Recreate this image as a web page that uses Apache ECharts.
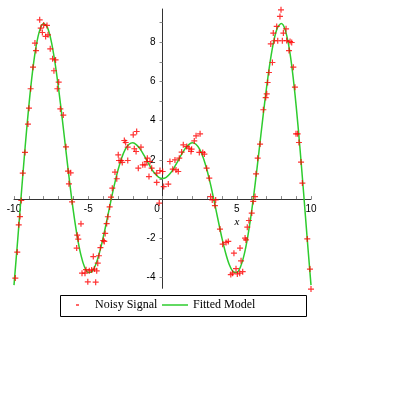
<!DOCTYPE html>
<html><head><meta charset="utf-8">
<script src="https://cdn.jsdelivr.net/npm/echarts@6/dist/echarts.min.js"></script>
<style>html,body{margin:0;padding:0;background:#fff}#c{width:395px;height:395px}</style>
</head><body><div id="c"></div>
<script>
const seriesNames = ['Noisy Signal', 'Fitted Model'];

const fitX = [-10,-9.75,-9.5,-9.25,-9,-8.75,-8.5,-8.25,-8,-7.75,-7.5,-7.25,-7,-6.75,-6.5,-6.25,-6,-5.75,-5.5,-5.25,-5,-4.75,-4.5,-4.25,-4,-3.75,-3.5,-3.25,-3,-2.75,-2.5,-2.25,-2,-1.75,-1.5,-1.25,-1,-0.75,-0.5,-0.25,0,0.25,0.5,0.75,1,1.25,1.5,1.75,2,2.25,2.5,2.75,3,3.25,3.5,3.75,4,4.25,4.5,4.75,5,5.25,5.5,5.75,6,6.25,6.5,6.75,7,7.25,7.5,7.75,8,8.25,8.5,8.75,9,9.25,9.5,9.75,10];
const fitY = [-4.39,-2.07,0.34,2.66,4.76,6.52,7.84,8.66,8.96,8.76,8.09,7.02,5.65,4.09,2.45,0.84,-0.63,-1.87,-2.83,-3.46,-3.74,-3.70,-3.35,-2.75,-1.98,-1.09,-0.18,0.70,1.47,2.10,2.55,2.80,2.87,2.77,2.55,2.24,1.89,1.56,1.29,1.11,1.05,1.11,1.29,1.56,1.89,2.24,2.55,2.77,2.87,2.80,2.55,2.10,1.47,0.70,-0.18,-1.09,-1.98,-2.75,-3.35,-3.70,-3.74,-3.46,-2.83,-1.87,-0.63,0.84,2.45,4.09,5.65,7.02,8.09,8.76,8.96,8.66,7.84,6.52,4.76,2.66,0.34,-2.07,-4.39];

const noisyX = [-9.91,-9.78,-9.68,-9.60,-9.51,-9.41,-9.26,-9.06,-8.99,-8.88,-8.72,-8.59,-8.52,-8.27,-8.20,-8.09,-8.00,-7.87,-7.78,-7.71,-7.56,-7.40,-7.31,-7.20,-7.08,-6.99,-6.88,-6.68,-6.50,-6.36,-6.30,-6.18,-6.09,-5.78,-5.74,-5.67,-5.49,-5.42,-5.22,-5.15,-5.03,-4.93,-4.77,-4.66,-4.59,-4.50,-4.43,-4.36,-4.28,-4.18,-3.99,-3.92,-3.86,-3.76,-3.68,-3.56,-3.47,-3.38,-3.20,-3.08,-2.98,-2.93,-2.79,-2.71,-2.57,-2.48,-2.34,-2.34,-1.97,-1.74,-1.90,-1.78,-1.45,-1.63,-1.33,-1.18,-1.02,-1.06,-0.84,-0.91,-0.73,-0.39,-0.39,-0.17,-0.22,0.01,0.08,0.39,0.50,0.69,0.84,0.91,1.06,1.13,1.29,1.40,1.63,1.78,1.92,1.96,2.14,2.26,2.53,2.48,2.71,2.82,2.97,3.15,3.24,3.35,3.58,3.53,3.87,4.05,4.28,4.43,4.60,4.72,4.81,4.95,5.04,5.20,5.22,5.40,5.29,5.56,5.62,5.71,5.82,6.01,6.11,6.23,6.30,6.41,6.57,6.79,6.95,7.02,7.08,7.17,7.29,7.40,7.46,7.53,7.69,7.76,7.91,7.98,8.07,8.14,8.32,8.36,8.52,8.59,8.70,8.81,8.92,8.99,9.10,9.19,9.33,9.42,9.75,9.93,10.00];
const noisyY = [-4.03,-2.70,-1.31,-0.89,-0.07,1.33,2.38,3.83,4.64,5.63,6.73,7.96,7.58,9.15,8.72,8.50,8.89,8.30,8.86,8.38,7.67,7.16,6.55,7.10,5.63,5.97,4.60,4.29,2.67,1.43,0.78,1.34,-0.14,-2.50,-1.84,-2.04,-1.26,-3.78,-3.78,-3.60,-4.22,-3.66,-3.61,-2.93,-3.57,-4.24,-3.66,-3.27,-2.89,-2.47,-2.11,-2.16,-1.75,-1.25,-0.90,-0.40,0.10,0.56,1.38,1.04,2.26,1.97,1.97,1.87,2.99,2.89,2.65,1.97,3.28,3.45,2.57,2.43,2.65,1.58,1.75,1.75,2.09,1.92,1.92,1.15,1.58,1.33,0.85,1.46,-0.20,1.41,0.64,0.77,1.92,1.53,2.00,1.49,1.41,2.09,2.40,2.77,2.68,2.60,2.43,2.55,2.97,3.23,3.33,2.38,2.38,2.30,1.58,1.07,0.13,-0.04,-0.04,-0.33,-1.53,-2.30,-2.21,-2.16,-3.85,-3.78,-2.76,-3.55,-3.82,-3.78,-2.50,-3.70,-3.15,-1.99,-2.08,-1.43,-1.09,-0.71,-0.12,0.13,1.29,2.09,2.81,4.56,5.18,5.37,5.95,6.46,7.92,6.97,8.47,8.08,8.81,8.08,9.32,9.66,8.08,8.47,8.69,8.09,7.58,8.04,7.99,6.73,5.71,3.33,3.33,2.89,1.89,0.82,-2.03,-3.57,-4.59];

const xTickValues = [-10,-9,-8,-7,-6,-5,-4,-3,-2,-1,0,1,2,3,4,5,6,7,8,9,10];
const xLabelValues = [-10,-5,0,5,10];
const yTickValues = [-4,-3,-2,-1,1,2,3,4,5,6,7,8,9];
const yLabelValues = [-4,-2,2,4,6,8];

const chart = echarts.init(document.getElementById('c'), null, {renderer: 'canvas'});
const plus = 'path://M2.4,0h1.2v2.4h2.4v1.2h-2.4v2.4h-1.2v-2.4h-2.4v-1.2h2.4z';
const labelFont = {fontFamily: 'Liberation Sans', fontSize: 10, color: '#000'};
const legendText = {fontFamily: 'Liberation Serif', fontSize: 12, color: '#000'};

chart.setOption({
  animation: false,
  grid: {left: 14, right: 84, top: 9, bottom: 106.7, containLabel: false, outerBoundsMode: 'none'},
  xAxis: {
    type: 'value', min: -10, max: 10, position: 'bottom', offset: -89.2,
    axisLine: {onZero: false, lineStyle: {color: '#333', width: 1}},
    splitLine: {show: false},
    axisTick: {customValues: xTickValues, inside: true, length: 3, lineStyle: {color: '#888'}},
    axisLabel: Object.assign({
      customValues: xLabelValues, margin: 5,
      formatter: v => v === 0 ? '{z|0}' : String(v),
      rich: {z: Object.assign({padding: [0, 11, 0, 0]}, labelFont)}
    }, labelFont)
  },
  yAxis: {
    type: 'value', min: -4.55, max: 9.7, position: 'left', offset: -148.5,
    axisLine: {show: true, onZero: false, lineStyle: {color: '#333', width: 1}},
    splitLine: {show: false},
    axisTick: {show: true, customValues: yTickValues, inside: false, length: 3, lineStyle: {color: '#888'}},
    axisLabel: Object.assign({customValues: yLabelValues, margin: 7}, labelFont)
  },
  legend: [
    {data: [{name: seriesNames[0], icon: 'rect'}], left: 76, top: 299, padding: 0,
     itemWidth: 3, itemHeight: 1.5, selectedMode: false,
     textStyle: Object.assign({padding: [0, 0, 0, 11]}, legendText)},
    {data: [{name: seriesNames[1], icon: 'rect'}], left: 162, top: 299, padding: 0,
     itemWidth: 26, itemHeight: 1.5, selectedMode: false,
     textStyle: legendText}
  ],
  graphic: [
    {type: 'rect', silent: true, shape: {x: 60.5, y: 295.5, width: 246, height: 21},
     style: {fill: 'none', stroke: '#000', lineWidth: 1}},
    {type: 'text', silent: true, x: 237, y: 222,
     style: {text: 'x', font: 'italic 11px "Liberation Serif"', fill: '#000', align: 'center', verticalAlign: 'middle'}}
  ],
  series: [
    {name: seriesNames[0], type: 'scatter', z: 3, clip: false,
     symbol: plus, symbolSize: 6,
     itemStyle: {color: '#ff0000'},
     data: noisyX.map((x, i) => [x, noisyY[i]])},
    {name: seriesNames[1], type: 'line', z: 2, clip: false,
     color: '#2ecc2e', showSymbol: false, smooth: 0.3,
     lineStyle: {width: 1.5, color: '#2ecc2e'},
     data: fitX.map((x, i) => [x, fitY[i]])}
  ]
});
</script></body></html>
